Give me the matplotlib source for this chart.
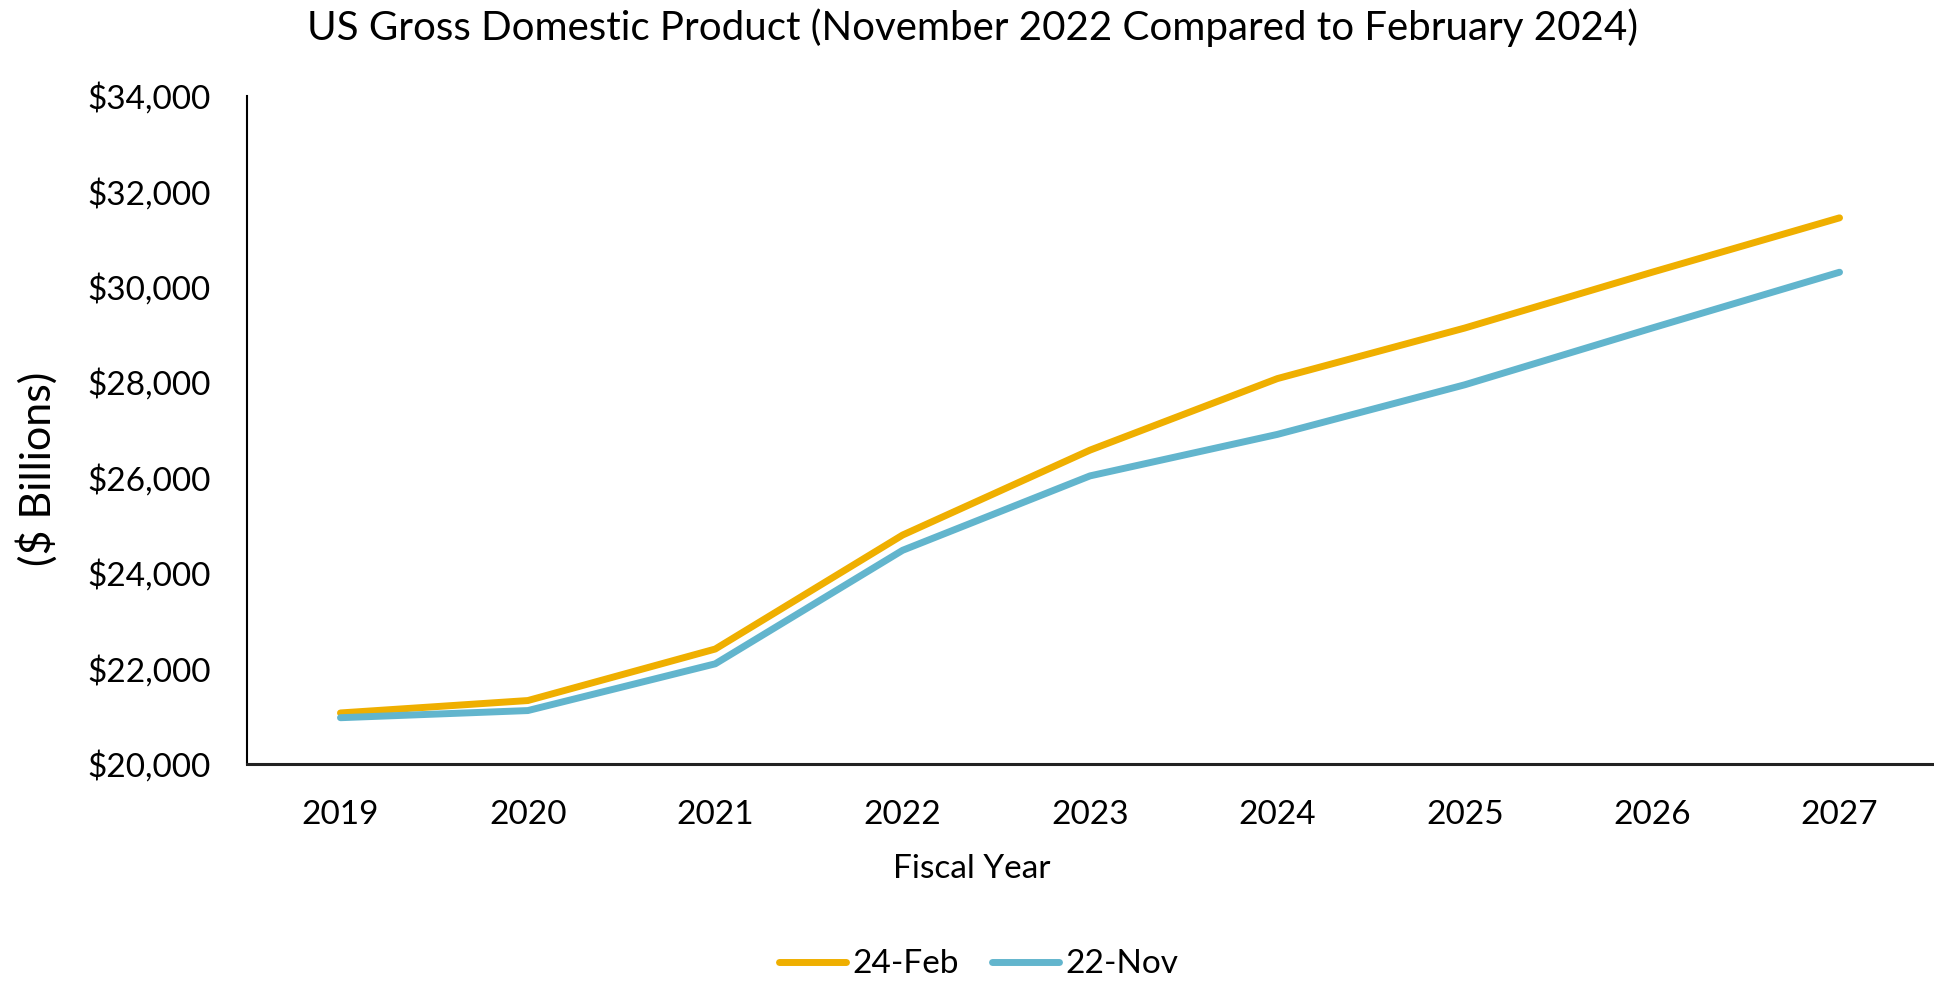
import matplotlib.pyplot as plt
from matplotlib.ticker import FuncFormatter

plt.rcParams['font.family'] = ['Lato', 'DejaVu Sans']

# values ($ billions)
years = ['2019', '2020', '2021', '2022', '2023', '2024', '2025', '2026', '2027']
feb24 = [21060, 21320, 22400, 24790, 26570, 28070, 29130, 30300, 31440]
nov22 = [20960, 21110, 22090, 24470, 26030, 26900, 27940, 29130, 30300]
series_names = ['24-Feb', '22-Nov']
colors = ['#EFAF00', '#62B5CD']

fig = plt.figure(figsize=(19.34, 9.82), dpi=100)
ax = fig.add_axes([0.1276, 0.2225, 0.872, 0.68])

x = range(len(years))
ax.plot(x, feb24, color=colors[0], lw=5, solid_capstyle='round', label=series_names[0])
ax.plot(x, nov22, color=colors[1], lw=5, solid_capstyle='round', label=series_names[1])

ax.set_xlim(-0.5, len(years) - 0.5)
ax.set_ylim(20000, 34000)
ax.set_yticks(range(20000, 34001, 2000))
ax.yaxis.set_major_formatter(FuncFormatter(lambda v, p: f'${v:,.0f}'))
ax.set_xticks(list(x))
ax.set_xticklabels(years)
ax.tick_params(axis='both', length=0, labelsize=24)
ax.tick_params(axis='y', pad=26)
ax.tick_params(axis='x', pad=26)

for s in ['top', 'right']:
    ax.spines[s].set_visible(False)
ax.spines['left'].set_linewidth(1.5)
ax.spines['bottom'].set_linewidth(2.2)
ax.spines['bottom'].set_color('#222222')

ax.set_xlabel('Fiscal Year', fontsize=24, labelpad=11)
ax.xaxis.set_label_coords(0.43, -0.135)
fig.text(0.019, 0.523, '($ Billions)', rotation=90, fontsize=31, ha='center', va='center')
fig.text(0.503, 0.972, 'US Gross Domestic Product (November 2022 Compared to February 2024)',
         fontsize=29, ha='center', va='center')

fig.legend(loc='center', bbox_to_anchor=(0.506, 0.018), ncol=2, frameon=False, fontsize=24,
           handlelength=2.0, columnspacing=1.0, handletextpad=0.2)

fig.savefig('out.png', dpi=100)
